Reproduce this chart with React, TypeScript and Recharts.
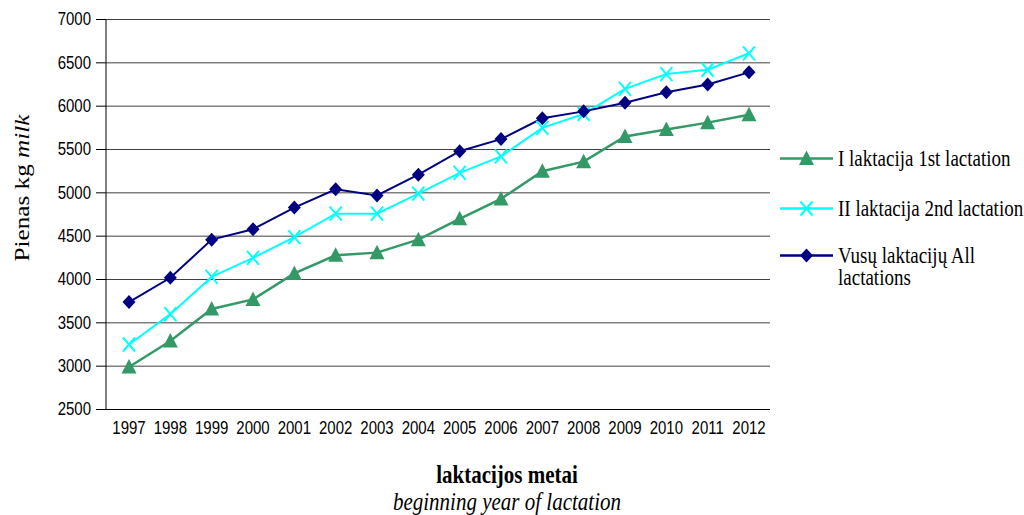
import React from "react";
import { LineChart, Line, XAxis, YAxis, CartesianGrid, Legend } from "recharts";

const years = ["1997","1998","1999","2000","2001","2002","2003","2004","2005","2006","2007","2008","2009","2010","2011","2012"];
const firstLactation = [2990,3290,3660,3770,4070,4280,4310,4460,4700,4930,5250,5360,5650,5730,5810,5900];
const secondLactation = [3250,3600,4030,4250,4490,4760,4760,4990,5230,5420,5750,5910,6200,6370,6420,6610];
const allLactations = [3740,4020,4460,4580,4830,5040,4970,5210,5480,5620,5860,5940,6040,6160,6250,6390];
const yTicks = [2500,3000,3500,4000,4500,5000,5500,6000,6500,7000];

const seriesNames = {
  first: "I laktacija 1st lactation",
  second: "II laktacija 2nd lactation",
  all: "Vusų laktacijų All lactations",
};

const GREEN = "#339966";
const CYAN = "#00FFFF";
const NAVY = "#000080";

const data = years.map((y, i) => ({
  year: y,
  first: firstLactation[i],
  second: secondLactation[i],
  all: allLactations[i],
}));

const SERIF = "'Liberation Serif', 'Times New Roman', serif";
const SANS = "'Liberation Sans', Arial, sans-serif";

function TriangleMark({ cx, cy, color }: any) {
  return <polygon points={`${cx},${cy - 8} ${cx - 7.5},${cy + 6.5} ${cx + 7.5},${cy + 6.5}`} fill={color} stroke="none" />;
}
function CrossMark({ cx, cy, color }: any) {
  return (
    <g stroke={color} strokeWidth={2}>
      <line x1={cx - 6} y1={cy - 7} x2={cx + 6} y2={cy + 7} />
      <line x1={cx - 6} y1={cy + 7} x2={cx + 6} y2={cy - 7} />
    </g>
  );
}
function DiamondMark({ cx, cy, color }: any) {
  return <polygon points={`${cx},${cy - 7} ${cx + 6.5},${cy} ${cx},${cy + 7} ${cx - 6.5},${cy}`} fill={color} stroke="none" />;
}

const markers: Record<string, any> = { first: TriangleMark, second: CrossMark, all: DiamondMark };

function XTick({ x, y, payload }: any) {
  return (
    <g transform={`translate(${x},${y}) scale(1,1.2)`}>
      <text x={0} y={0} textAnchor="middle" dominantBaseline="central" fontFamily={SANS} fontSize={15} fill="#000">
        {payload.value}
      </text>
    </g>
  );
}
function YTick({ x, y, payload }: any) {
  return (
    <g transform={`translate(${x},${y}) scale(1,1.2)`}>
      <text x={0} y={0} textAnchor="end" dominantBaseline="central" fontFamily={SANS} fontSize={15} fill="#000">
        {payload.value}
      </text>
    </g>
  );
}

const legendRowTops = [0, 50, 97];

function LegendContent({ payload }: any) {
  const items = (payload || []).slice().sort((a: any, b: any) => {
    const order = ["first", "second", "all"];
    return order.indexOf(a.dataKey) - order.indexOf(b.dataKey);
  });
  return (
    <div style={{ position: "relative", width: 248, height: 150 }}>
      {items.map((it: any, i: number) => {
        const M = markers[it.dataKey];
        return (
          <div key={it.dataKey} style={{ position: "absolute", left: 0, top: legendRowTops[i], width: 248, height: 21 }}>
            <svg width={56} height={21} style={{ position: "absolute", left: 4, top: 0 }}>
              <line x1={0} y1={10.5} x2={53} y2={10.5} stroke={it.color} strokeWidth={2.5} />
              <M cx={26.5} cy={10.5} color={it.color} />
            </svg>
            <div
              style={{
                position: "absolute",
                left: 62,
                top: 0,
                width: 186,
                fontFamily: SERIF,
                fontSize: 19,
                lineHeight: "17.5px",
                color: "#000",
                transform: "scaleY(1.2)",
                transformOrigin: "left top",
              }}
            >
              {it.value}
            </div>
          </div>
        );
      })}
    </div>
  );
}

export default function App() {
  return (
    <div style={{ position: "absolute", left: 0, top: 0, width: 1024, height: 515, background: "#fff" }}>
      <LineChart
        width={1024}
        height={515}
        data={data}
        margin={{ top: 19.5, right: 254, left: 0, bottom: 75.5 }}
      >
        <CartesianGrid vertical={false} stroke="#404040" strokeWidth={1} />
        <XAxis
          dataKey="year"
          height={30}
          padding={{ left: 23, right: 21 }}
          axisLine={{ stroke: "#000", strokeWidth: 1 }}
          tickLine={false}
          tickSize={0}
          tickMargin={19}
          tick={<XTick />}
          interval={0}
        />
        <YAxis
          width={106}
          domain={[2500, 7000]}
          ticks={yTicks}
          interval={0}
          axisLine={{ stroke: "#000", strokeWidth: 1 }}
          tickLine={{ stroke: "#000", strokeWidth: 1 }}
          tickSize={10}
          tickMargin={5}
          tick={<YTick />}
        />
        <Legend
          layout="vertical"
          align="center"
          verticalAlign="middle"
          wrapperStyle={{ left: 776, top: 148, width: 248 }}
          content={<LegendContent />}
        />
        <Line
          type="linear"
          dataKey="first"
          name={seriesNames.first}
          stroke={GREEN}
          strokeWidth={2.5}
          isAnimationActive={false}
          dot={(p: any) => <TriangleMark key={`f${p.index}`} cx={p.cx} cy={p.cy} color={GREEN} />}
          activeDot={false}
        />
        <Line
          type="linear"
          dataKey="second"
          name={seriesNames.second}
          stroke={CYAN}
          strokeWidth={2}
          isAnimationActive={false}
          dot={(p: any) => <CrossMark key={`s${p.index}`} cx={p.cx} cy={p.cy} color={CYAN} />}
          activeDot={false}
        />
        <Line
          type="linear"
          dataKey="all"
          name={seriesNames.all}
          stroke={NAVY}
          strokeWidth={2}
          isAnimationActive={false}
          dot={(p: any) => <DiamondMark key={`a${p.index}`} cx={p.cx} cy={p.cy} color={NAVY} />}
          activeDot={false}
        />
      </LineChart>

      <div
        style={{
          position: "absolute",
          left: -78,
          top: 176,
          width: 200,
          height: 24,
          lineHeight: "24px",
          textAlign: "center",
          fontFamily: SERIF,
          fontSize: 21,
          color: "#000",
          whiteSpace: "nowrap",
          transform: "scaleY(1.2) rotate(-90deg)",
          transformOrigin: "center center",
        }}
      >
        Pienas kg <i>milk</i>
      </div>

      <div
        style={{
          position: "absolute",
          left: 307,
          top: 463,
          width: 400,
          height: 24,
          lineHeight: "24px",
          textAlign: "center",
          fontFamily: SERIF,
          fontSize: 21,
          fontWeight: "bold",
          color: "#000",
          transform: "scaleY(1.2)",
          transformOrigin: "center center",
        }}
      >
        laktacijos metai
      </div>
      <div
        style={{
          position: "absolute",
          left: 307,
          top: 490,
          width: 400,
          height: 24,
          lineHeight: "24px",
          textAlign: "center",
          fontFamily: SERIF,
          fontSize: 21,
          fontStyle: "italic",
          color: "#000",
          transform: "scaleY(1.2)",
          transformOrigin: "center center",
        }}
      >
        beginning year of lactation
      </div>
    </div>
  );
}
